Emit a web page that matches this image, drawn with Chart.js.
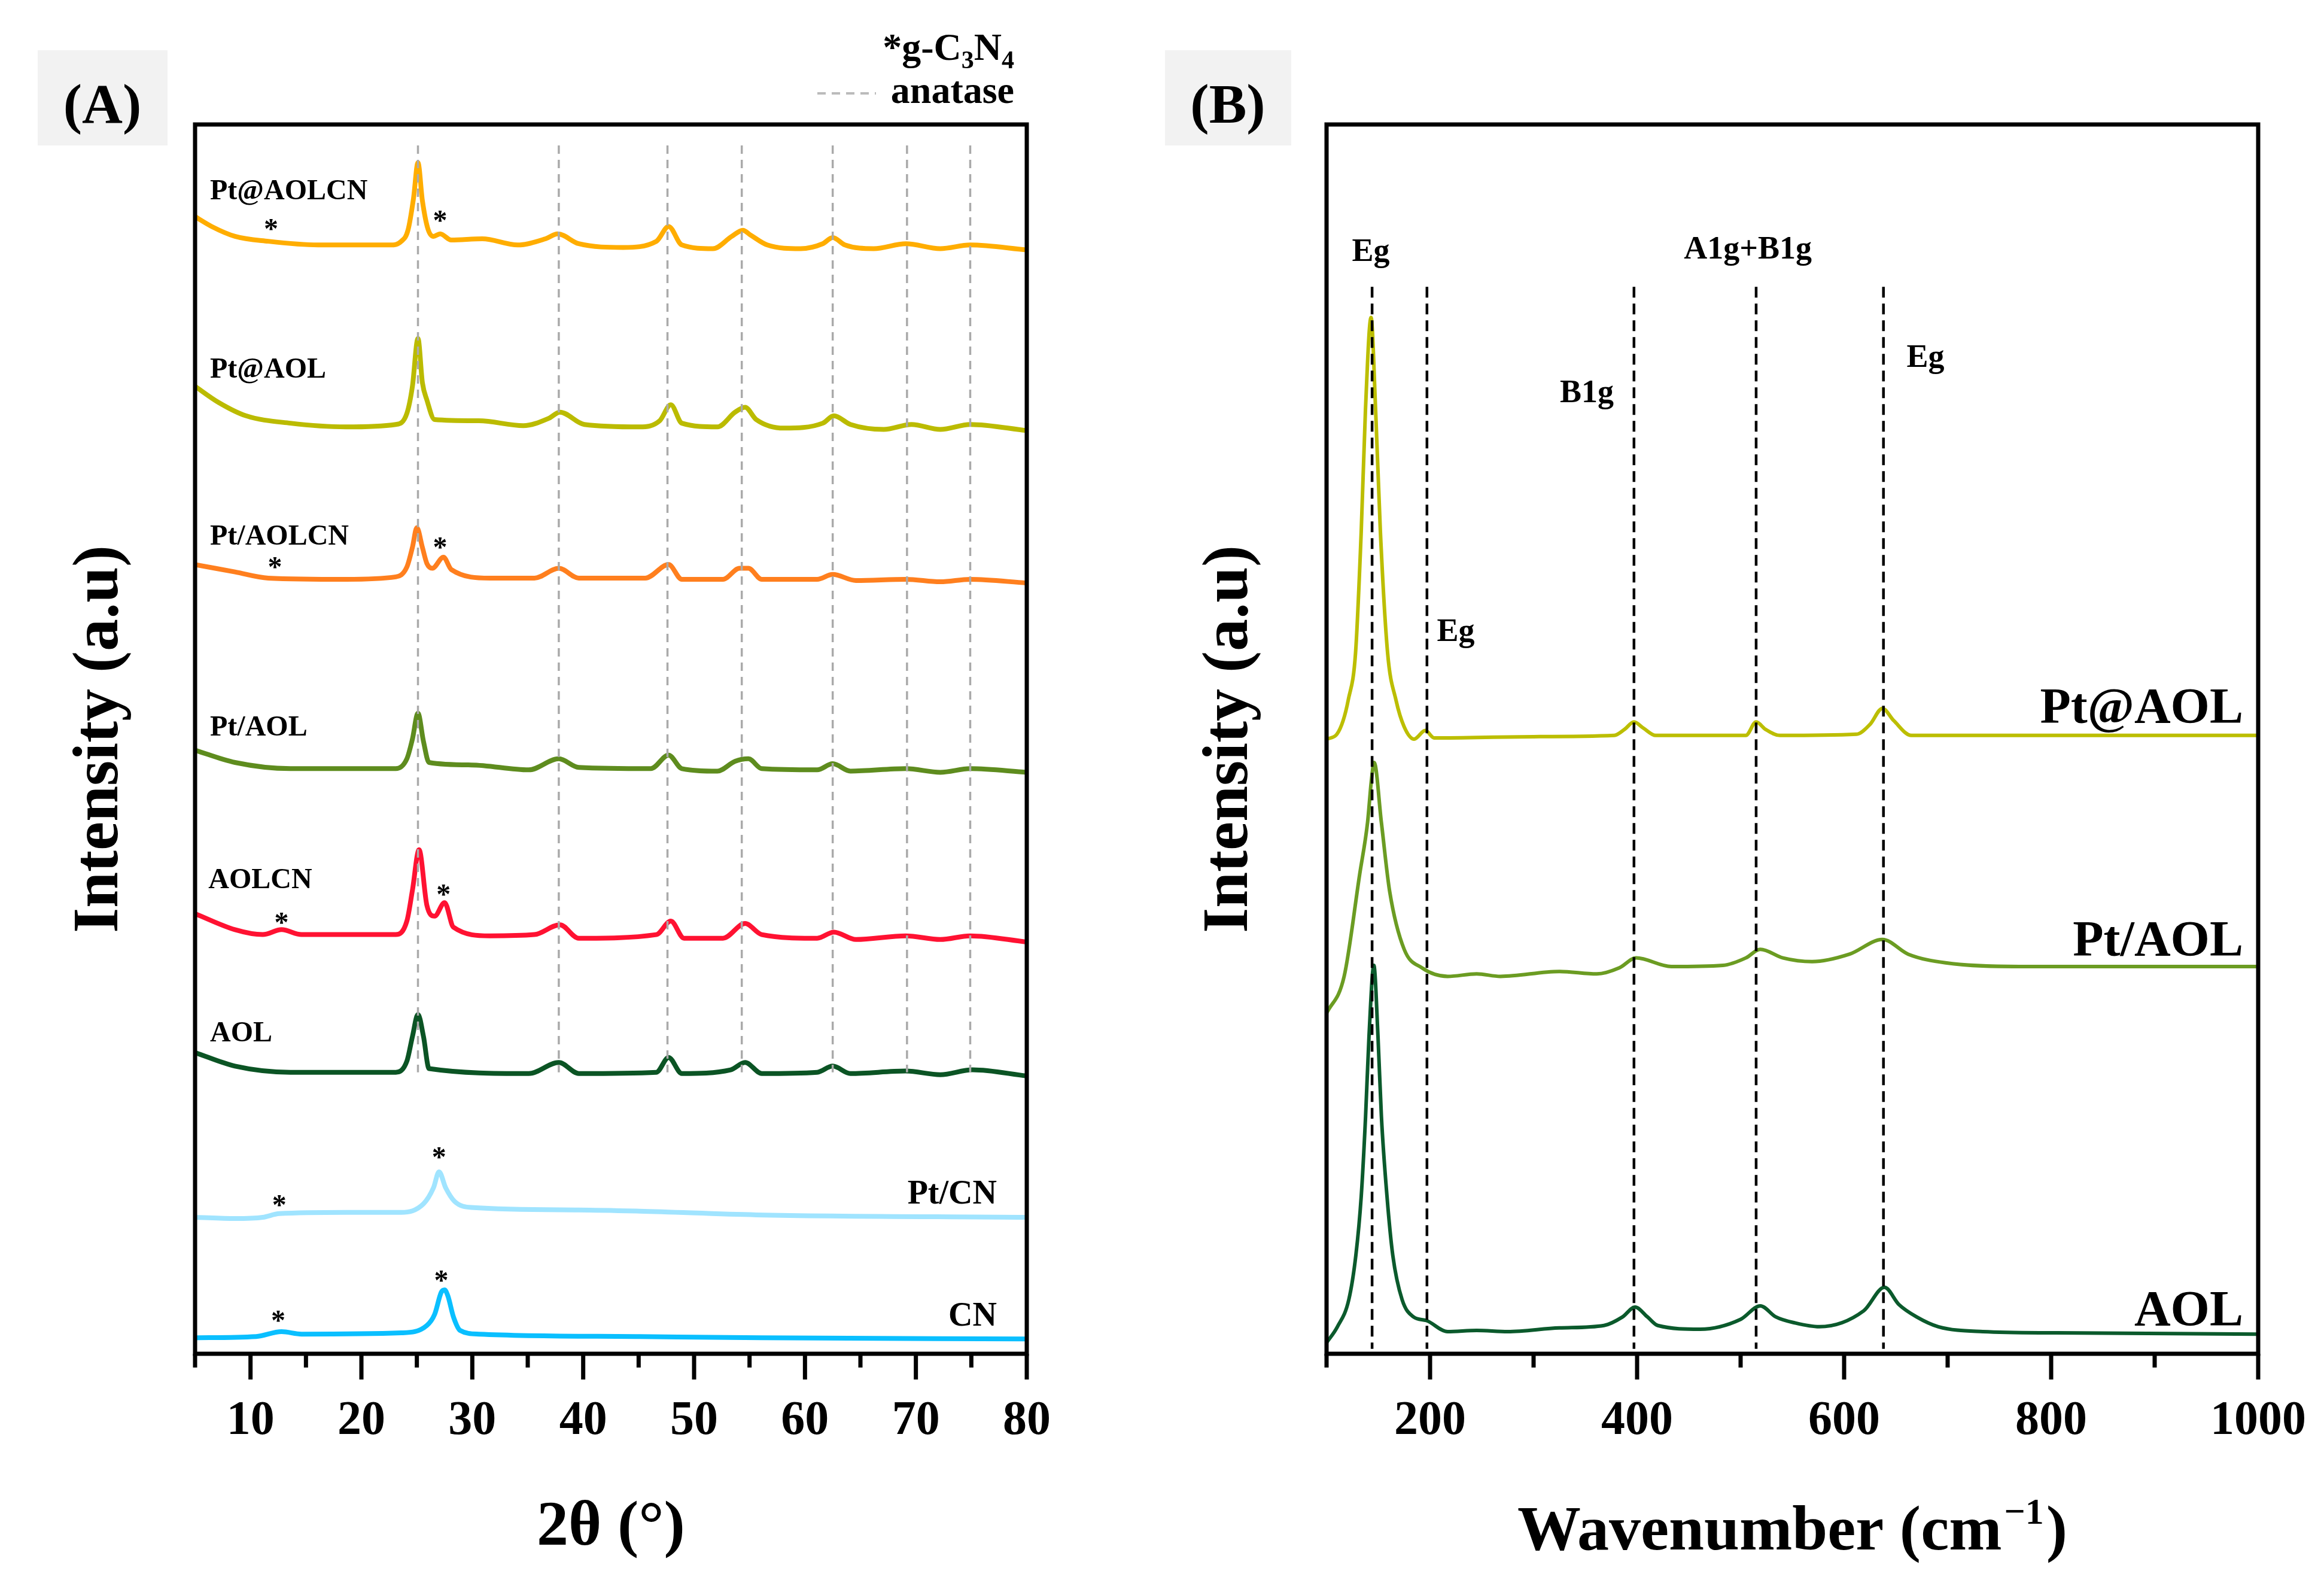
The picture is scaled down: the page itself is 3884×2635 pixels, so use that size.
<!DOCTYPE html>
<html>
<head>
<meta charset="utf-8">
<script src="https://cdn.jsdelivr.net/npm/chart.js@4.4.0/dist/chart.umd.min.js"></script>
<style>
  html, body { margin: 0; padding: 0; background: #fff; }
  #wrap { position: relative; width: 3884px; height: 2635px; }
  #chartA { position: absolute; left: 0; top: 0; }
  #chartB { position: absolute; left: 1942px; top: 0; }
</style>
</head>
<body>
<div id="wrap">
  <canvas id="chartA" width="1942" height="2635"></canvas>
  <canvas id="chartB" width="1942" height="2635"></canvas>
</div>
<script>
// ---- (A) XRD patterns, 2theta (deg) vs stacked intensity (a.u.) ----
var xrdNames = ['Pt@AOLCN', 'Pt@AOL', 'Pt/AOLCN', 'Pt/AOL', 'AOLCN', 'AOL', 'Pt/CN', 'CN'];

var ptAtAolcnX = [5, 6.5, 8.6, 11.6, 16.1, 22.6, 23.6, 24.2, 24.7, 25.1, 25.5, 26.0, 26.5, 27.1, 28.1, 30.9, 34.1, 36.6, 37.7, 39.6, 43.6, 46.6, 47.7, 48.9, 51.7, 53.4, 54.4, 55.1, 56.6, 59.6, 61.6, 62.5, 63.6, 66.2, 69.1, 72.2, 74.9, 80];
var ptAtAolcnY = [925, 917, 909, 905, 902, 902, 905, 914, 940, 969, 938, 915, 909, 911, 906, 907, 902, 907, 911, 903, 900, 905, 917, 902, 899, 909, 914, 910, 902, 899, 903, 908, 902, 899, 903, 899, 902, 898];

var ptAtAolX = [5, 7.1, 9.6, 13.6, 18.6, 23.1, 24.1, 24.6, 25.1, 25.5, 25.9, 26.6, 30.6, 34.6, 36.9, 37.9, 40.1, 45.1, 46.9, 47.9, 48.9, 52.1, 53.7, 54.6, 55.6, 58.1, 61.6, 62.6, 64.1, 67.1, 69.6, 72.2, 74.9, 80];
var ptAtAolY = [787, 774, 763, 757, 754, 756, 765, 787, 826, 790, 776, 760, 759, 755, 761, 766, 756, 754, 759, 772, 757, 754, 766, 770, 760, 753, 757, 763, 756, 752, 756, 752, 756, 751];

var ptAolcnX = [5, 8.6, 11.6, 18.6, 23.1, 24.1, 24.6, 25.0, 25.5, 25.9, 26.4, 27.4, 28.1, 31.6, 35.6, 37.8, 39.6, 45.6, 47.7, 48.9, 52.6, 54.1, 54.9, 56.1, 61.1, 62.5, 64.6, 69.1, 72.2, 74.9, 80];
var ptAolcnY = [642, 636, 631, 630, 632, 640, 656, 672, 656, 643, 639, 648, 638, 631, 631, 639, 631, 631, 642, 630, 630, 639, 639, 630, 630, 634, 629, 630, 628, 630, 627];

var ptAolX = [5, 8.6, 13.6, 23.1, 24.1, 24.6, 25.1, 25.6, 26.1, 29.9, 35.1, 37.8, 39.6, 46.1, 47.7, 48.9, 52.1, 53.7, 54.9, 56.1, 61.1, 62.5, 64.1, 69.1, 72.2, 74.9, 80];
var ptAolY = [491, 481, 476, 476, 484, 500, 521, 498, 481, 479, 475, 484, 477, 476, 487, 476, 474, 482, 484, 476, 475, 480, 474, 476, 473, 476, 473];

var aolcnX = [5, 8.6, 11.1, 12.8, 14.6, 23.1, 24.1, 24.6, 25.2, 25.9, 26.6, 27.5, 28.3, 31.6, 35.6, 37.9, 39.6, 46.6, 47.9, 49.1, 52.6, 54.6, 56.1, 61.1, 62.6, 64.6, 69.1, 72.2, 74.9, 80];
var aolcnY = [358, 345, 341, 345, 341, 341, 352, 377, 410, 365, 356, 367, 347, 340, 341, 349, 338, 341, 352, 338, 338, 350, 341, 338, 343, 337, 340, 337, 340, 335];

var aolX = [5, 8.6, 13.6, 23.1, 24.1, 24.6, 25.1, 25.6, 26.1, 35.1, 37.8, 39.6, 46.6, 47.7, 48.9, 53.3, 54.6, 56.1, 61.1, 62.5, 64.1, 69.1, 72.2, 75.1, 80];
var aolY = [245, 234, 229, 229, 238, 258, 276, 258, 232, 228, 237, 228, 229, 241, 228, 231, 237, 228, 229, 234, 228, 230, 227, 231, 226];

var ptCnX = [5, 8.6, 11.1, 12.6, 18.6, 23.6, 25.6, 26.5, 27.0, 27.6, 28.4, 29.9, 39.6, 45.1, 55.6, 80];
var ptCnY = [111, 110, 111, 114, 115, 115, 122, 135, 148, 135, 124, 119, 117, 116, 113, 111];

var cnX = [5, 10.5, 12.8, 14.6, 23.6, 25.9, 26.6, 27.2, 27.5, 27.8, 28.3, 28.9, 30.6, 45.1, 56.1, 80];
var cnY = [13, 14, 18, 16, 17, 23, 32, 50, 52, 47, 30, 19, 16, 14, 13, 12];

var xrdMajorTicks = [10, 20, 30, 40, 50, 60, 70, 80];
var xrdMinorTicks = [5, 15, 25, 35, 45, 55, 65, 75];
var anataseLines = [25.1, 37.8, 47.6, 54.3, 62.5, 69.2, 74.9];
var anataseSpan = [229, 983];

// g-C3N4 reflections marked with "*"
var starX = [11.85, 27.1, 12.2, 27.1, 12.8, 27.4, 12.6, 27.0, 12.5, 27.2];
var starY = [918, 925, 643, 659, 354, 377, 124, 163, 30, 63];

// ---- (B) Raman spectra, wavenumber (cm-1) vs stacked intensity (a.u.) ----
var ramanNames = ['Pt@AOL', 'Pt/AOL', 'AOL'];

var rPtAtAolX = [100, 110, 116, 121, 128, 133.5, 137.6, 143, 147.4, 152, 159, 167, 175, 184.6, 195.4, 204, 300, 378, 388, 397, 406, 418, 505, 515, 524, 538, 612, 625, 637, 648, 665, 800, 1000];
var rPtAtAolY = [500, 504, 515, 532, 570, 669, 768, 843, 768, 669, 570, 532, 510, 500, 507, 501, 502, 503, 508, 514, 509, 503, 503, 514, 508, 503, 504, 512, 525, 515, 503, 503, 503];

var rPtAolX = [100, 117, 132, 139.6, 143.5, 146, 153, 161, 175, 192, 217, 245, 268, 325, 361, 383, 399, 433, 483, 505, 519, 541, 569, 605, 637, 662, 698, 769, 1000];
var rPtAolY = [277, 307, 390, 432, 468, 481, 432, 376, 329, 314, 307, 309, 307, 311, 309, 314, 322, 315, 316, 322, 329, 322, 319, 325, 337, 325, 318, 315, 315];

var rAolX = [100, 110.5, 121.5, 128.3, 133.5, 137.7, 141, 145.7, 149.7, 153, 158.4, 164, 173, 184, 196.5, 217, 245, 275, 325, 368, 386, 398, 410, 420, 461, 500, 519, 534, 553, 576, 619, 639, 653, 670, 691, 734, 805, 1000];
var rAolY = [9, 22, 44, 80, 128, 193, 258, 316, 258, 193, 128, 80, 44, 30, 27, 18, 19, 18, 21, 23, 30, 38, 30, 23, 20, 28, 39, 30, 25, 22, 35, 54, 40, 30, 22, 18, 17, 16];

var ramanMajorTicks = [200, 400, 600, 800, 1000];
var ramanMinorTicks = [100, 300, 500, 700, 900];
var ramanModeLines = [144, 197, 397, 515, 638];
var ramanModeSpan = [4, 868];
var modeNames = ['Eg', 'A1g+B1g', 'B1g', 'Eg', 'Eg'];
var modeX = [142.8, 507, 351.4, 678.6, 224.9];
var modeY = [889, 891, 774, 803, 580];

// label anchors (data coordinates)
var xrdLabelX = [6.35, 6.35, 6.35, 6.35, 6.2, 6.35, 77.3, 77.3];
var xrdLabelY = [939, 794, 658, 503, 379, 254, 122, 23];
var ramanLabelX = [985.5, 985.5, 985.5];
var ramanLabelY = [513, 324, 23];

var xrdColors = ['#FFAD00', '#BBBB00', '#FF7F1E', '#5E8C1E', '#FF1232', '#0B5424', '#A0E4FF', '#0ABFFF'];
var ramanColors = ['#BCBE00', '#6B9C22', '#0B5A2C'];

var SERIF = "'Liberation Serif', 'Times New Roman', serif";
Chart.defaults.font.family = SERIF;
Chart.defaults.color = '#000';

function put(ctx, s, x, y, size, align) {
    ctx.font = 'bold ' + size + 'px ' + SERIF;
    ctx.textAlign = align || 'left';
    ctx.textBaseline = 'alphabetic';
    ctx.fillStyle = '#000';
    ctx.fillText(s, x, y);
}

function lineSet(name, xs, ys, color, width) {
    return {
        label: name,
        data: xs.map(function(x, i) { return {x: x, y: ys[i]}; }),
        borderColor: color,
        backgroundColor: color,
        borderWidth: width,
        pointRadius: 0,
        cubicInterpolationMode: 'monotone',
        fill: false
    };
}

function frame(chart, major, minor) {
    var ctx = chart.ctx, a = chart.chartArea, sx = chart.scales.x;
    ctx.save();
    ctx.strokeStyle = '#000';
    ctx.setLineDash([]);
    ctx.lineWidth = 7;
    ctx.strokeRect(a.left, a.top, a.right - a.left, a.bottom - a.top);
    major.forEach(function(v) {
        var p = sx.getPixelForValue(v);
        ctx.beginPath(); ctx.moveTo(p, a.bottom); ctx.lineTo(p, a.bottom + 43); ctx.stroke();
    });
    minor.forEach(function(v) {
        var p = sx.getPixelForValue(v);
        ctx.beginPath(); ctx.moveTo(p, a.bottom); ctx.lineTo(p, a.bottom + 23); ctx.stroke();
    });
    ctx.restore();
}

function vlines(chart, xs, span, color, width, dash) {
    var ctx = chart.ctx, sx = chart.scales.x, sy = chart.scales.y;
    ctx.save();
    ctx.strokeStyle = color;
    ctx.lineWidth = width;
    ctx.setLineDash(dash);
    xs.forEach(function(v) {
        var p = sx.getPixelForValue(v);
        ctx.beginPath();
        ctx.moveTo(p, sy.getPixelForValue(span[1]));
        ctx.lineTo(p, sy.getPixelForValue(span[0]));
        ctx.stroke();
    });
    ctx.restore();
}

function panelTag(ctx, text, x0, x1, cx) {
    ctx.save();
    ctx.fillStyle = '#f2f2f2';
    ctx.fillRect(x0, 84, x1 - x0, 159);
    put(ctx, text, cx, 205, 94, 'center');
    ctx.restore();
}

function yTitle(ctx, x, y) {
    ctx.save();
    ctx.translate(x, y);
    ctx.rotate(-Math.PI / 2);
    put(ctx, 'Intensity (a.u)', 0, 0, 108, 'center');
    ctx.restore();
}

function xScaleOpts(min, max, ticks) {
    return {
        type: 'linear', min: min, max: max,
        afterFit: function(s) { s.height = 373; s.paddingLeft = 0; s.paddingRight = 0; },
        afterBuildTicks: function(s) { s.ticks = ticks.map(function(v) { return {value: v}; }); },
        grid: { display: false, drawTicks: false },
        border: { display: false },
        ticks: {
            autoSkip: false, maxRotation: 0, padding: 65, color: '#000',
            font: { size: 80, weight: 'bold' },
            callback: function(v) { return String(v); }
        }
    };
}

var xrdPlugin = {
    id: 'xrdDecor',
    afterDatasetsDraw: function(chart) {
        vlines(chart, anataseLines, anataseSpan, '#aaaaaa', 3.5, [14, 10]);
    },
    afterDraw: function(chart) {
        var ctx = chart.ctx, sx = chart.scales.x, sy = chart.scales.y, a = chart.chartArea;
        frame(chart, xrdMajorTicks, xrdMinorTicks);
        panelTag(ctx, '(A)', 63, 280, 171);

        // legend: *g-C3N4 and dashed anatase
        var parts = [['*g-C', 64, 0], ['3', 42, 14], ['N', 64, 0], ['4', 42, 14]];
        var total = 0;
        parts.forEach(function(p) { ctx.font = 'bold ' + p[1] + 'px ' + SERIF; p.push(ctx.measureText(p[0]).width); total += p[3]; });
        var px = 1695 - total;
        parts.forEach(function(p) { put(ctx, p[0], px, 100 + p[2], p[1], 'left'); px += p[3]; });
        put(ctx, 'anatase', 1695, 172, 64, 'right');
        ctx.save();
        ctx.strokeStyle = '#bbbbbb'; ctx.lineWidth = 4; ctx.setLineDash([14, 10]);
        ctx.beginPath(); ctx.moveTo(1366, 156); ctx.lineTo(1464, 156); ctx.stroke();
        ctx.restore();

        xrdNames.forEach(function(n, i) {
            var right = i >= 6;
            put(ctx, n, sx.getPixelForValue(xrdLabelX[i]), sy.getPixelForValue(xrdLabelY[i]), right ? 56 : 48, right ? 'right' : 'left');
        });
        starX.forEach(function(v, i) {
            put(ctx, '*', sx.getPixelForValue(v), sy.getPixelForValue(starY[i]) + 22, 48, 'center');
        });

        put(ctx, '2\u03B8 (\u00B0)', (a.left + a.right) / 2, 2581, 106, 'center');
        yTitle(ctx, 196, 1235);
    }
};

var ramanPlugin = {
    id: 'ramanDecor',
    afterDatasetsDraw: function(chart) {
        vlines(chart, ramanModeLines, ramanModeSpan, '#000', 4.5, [18, 10]);
    },
    afterDraw: function(chart) {
        var ctx = chart.ctx, sx = chart.scales.x, sy = chart.scales.y, a = chart.chartArea;
        frame(chart, ramanMajorTicks, ramanMinorTicks);
        panelTag(ctx, '(B)', 5, 216, 110);

        modeNames.forEach(function(n, i) {
            put(ctx, n, sx.getPixelForValue(modeX[i]), sy.getPixelForValue(modeY[i]), 54, 'center');
        });
        ramanNames.forEach(function(n, i) {
            put(ctx, n, sx.getPixelForValue(ramanLabelX[i]), sy.getPixelForValue(ramanLabelY[i]), 84, 'right');
        });

        // x title with superscript
        ctx.font = 'bold 106px ' + SERIF;
        var w1 = ctx.measureText('Wavenumber (cm').width;
        var w3 = ctx.measureText(')').width;
        ctx.font = 'bold 62px ' + SERIF;
        var w2 = ctx.measureText('\u22121').width;
        var x0 = (a.left + a.right) / 2 - (w1 + w2 + w3 + 8) / 2;
        put(ctx, 'Wavenumber (cm', x0, 2589, 106, 'left');
        put(ctx, '\u22121', x0 + w1 + 4, 2546, 62, 'left');
        put(ctx, ')', x0 + w1 + w2 + 8, 2589, 106, 'left');

        yTitle(ctx, 142, 1235);
    }
};

var xrdXs = [ptAtAolcnX, ptAtAolX, ptAolcnX, ptAolX, aolcnX, aolX, ptCnX, cnX];
var xrdYs = [ptAtAolcnY, ptAtAolY, ptAolcnY, ptAolY, aolcnY, aolY, ptCnY, cnY];

new Chart(document.getElementById('chartA'), {
    type: 'line',
    data: {
        datasets: xrdNames.map(function(n, i) { return lineSet(n, xrdXs[i], xrdYs[i], xrdColors[i], 8); })
    },
    options: {
        responsive: false,
        animation: false,
        devicePixelRatio: 1,
        layout: { padding: { left: 326, right: 226, top: 208, bottom: 0 } },
        plugins: { legend: { display: false }, tooltip: { enabled: false } },
        scales: {
            x: xScaleOpts(5, 80, xrdMajorTicks),
            y: { display: false, min: 0, max: 1000 }
        }
    },
    plugins: [xrdPlugin]
});

var ramanXs = [rPtAtAolX, rPtAolX, rAolX];
var ramanYs = [rPtAtAolY, rPtAolY, rAolY];

new Chart(document.getElementById('chartB'), {
    type: 'line',
    data: {
        datasets: ramanNames.map(function(n, i) { return lineSet(n, ramanXs[i], ramanYs[i], ramanColors[i], 6); })
    },
    options: {
        responsive: false,
        animation: false,
        devicePixelRatio: 1,
        layout: { padding: { left: 275, right: 110, top: 208, bottom: 0 } },
        plugins: { legend: { display: false }, tooltip: { enabled: false } },
        scales: {
            x: xScaleOpts(100, 1000, ramanMajorTicks),
            y: { display: false, min: 0, max: 1000 }
        }
    },
    plugins: [ramanPlugin]
});
</script>
</body>
</html>
